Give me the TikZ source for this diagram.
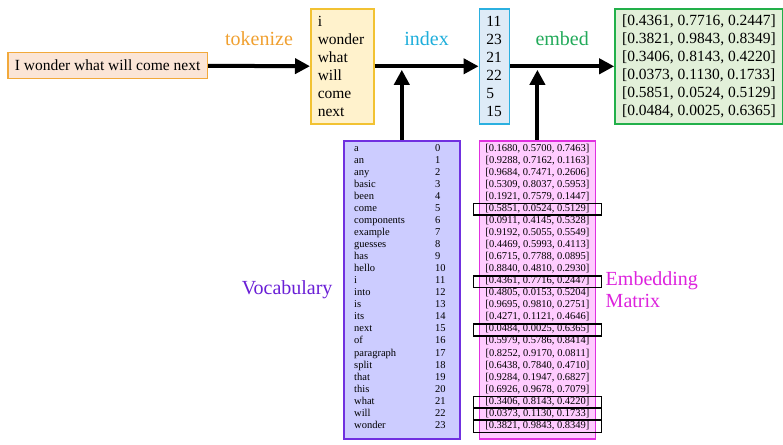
\documentclass[tikz,border=0pt]{standalone}
\usepackage{fontspec}
\setmainfont{Liberation Serif}
\usetikzlibrary{arrows.meta,positioning,calc}

\definecolor{srcline}{HTML}{F2A93B}
\definecolor{srcfill}{HTML}{FBE5D6}
\definecolor{tokline}{HTML}{F2C232}
\definecolor{tokfill}{HTML}{FFF2CC}
\definecolor{tokorange}{HTML}{F0A030}
\definecolor{idxline}{HTML}{2BB0E0}
\definecolor{idxfill}{HTML}{DEEBF7}
\definecolor{idxblue}{HTML}{1EAEDB}
\definecolor{resline}{HTML}{22B04A}
\definecolor{resfill}{HTML}{E2F0D9}
\definecolor{resgreen}{HTML}{22AA5A}
\definecolor{vocline}{HTML}{7030E0}
\definecolor{vocfill}{HTML}{CCCCFF}
\definecolor{vocpurple}{HTML}{6A1FD6}
\definecolor{embline}{HTML}{E030E0}
\definecolor{embfill}{HTML}{FFCCFF}
\definecolor{embpink}{HTML}{DD22DD}

\begin{document}
\begin{tikzpicture}[x=1pt,y=-1pt]
      \tikzstyle{box}=[rectangle,line width=1.6pt,inner xsep=7pt,inner ysep=0pt]
      \tikzstyle{flow}=[line width=4pt,-{Triangle[length=15pt,width=15pt]}]
      \tikzstyle{lab}=[font=\fontsize{20}{22.7}\selectfont]
      \tikzstyle{big}=[font=\fontsize{15.5}{18}\selectfont]
      \tikzstyle{small}=[font=\fontsize{10.5}{12}\selectfont,inner sep=0pt]
      \tikzstyle{hl}=[line width=1.5pt,draw=black]

      \useasboundingbox (0,0) rectangle (783,444);

      % top row
      \node[box,big,draw=srcline,fill=srcfill,anchor=west,minimum height=26pt] (sent) at (7,65.5) {I wonder what will come next};
      \node[box,big,draw=tokline,fill=tokfill,anchor=north west,align=left,text width=49pt,minimum height=115pt] (tok) at (310,8)
        {i\\wonder\\what\\will\\come\\next};
      \node[box,big,draw=idxline,fill=idxfill,align=left,text width=16pt,minimum height=115pt,right=104pt of tok] (idx)
        {11\\23\\21\\22\\5\\15};
      \node[box,big,draw=resline,fill=resfill,align=left,inner xsep=0pt,minimum width=168pt,minimum height=115pt,right=104pt of idx] (res)
        {[0.4361, 0.7716, 0.2447]\\{}[0.3821, 0.9843, 0.8349]\\{}[0.3406, 0.8143, 0.4220]\\{}%
         [0.0373, 0.1130, 0.1733]\\{}[0.5851, 0.0524, 0.5129]\\{}[0.0484, 0.0025, 0.6365]};

      % lookup tables
      \node[box,draw=vocline,fill=vocfill,anchor=north west,minimum width=116pt,minimum height=298pt] (vocab) at (343,140) {};
      \node[box,draw=embline,fill=embfill,minimum width=116pt,minimum height=298pt,right=18pt of vocab] (emb) {};
      \node[lab,text=vocpurple,left=7pt of vocab] (voclab) {Vocabulary};
      \node[lab,text=embpink,align=left,right=6pt of emb] (emblab) {Embedding\\Matrix};

      \foreach \w [count=\k from 0] in {a,an,any,basic,been,come,components,example,guesses,has,hello,i,
                                        into,is,its,next,of,paragraph,split,that,this,what,will,wonder} {
        \node[small,anchor=base west] (w\k) at ($(vocab.north west)+(11,11+12.06*\k)$) {\w};
        \node[small,anchor=base west] (n\k) at ($(vocab.north west)+(92,11+12.06*\k)$) {\k};
      }

      \foreach \a/\b/\c [count=\k from 0] in {
          0.1680/0.5700/0.7463, 0.9288/0.7162/0.1163, 0.9684/0.7471/0.2606, 0.5309/0.8037/0.5953,
          0.1921/0.7579/0.1447, 0.5851/0.0524/0.5129, 0.0911/0.4145/0.5328, 0.9192/0.5055/0.5549,
          0.4469/0.5993/0.4113, 0.6715/0.7788/0.0895, 0.8840/0.4810/0.2930, 0.4361/0.7716/0.2447,
          0.4805/0.0153/0.5204, 0.9695/0.9810/0.2751, 0.4271/0.1121/0.4646, 0.0484/0.0025/0.6365,
          0.5979/0.5786/0.8414, 0.8252/0.9170/0.0811, 0.6438/0.7840/0.4710, 0.9284/0.1947/0.6827,
          0.6926/0.9678/0.7079, 0.3406/0.8143/0.4220, 0.0373/0.1130/0.1733, 0.3821/0.9843/0.8349} {
        \node[small,anchor=base] (e\k) at ($(emb.north)+(0,11+12.06*\k)$) {[\a, \b, \c]};
      }

      % rows picked out by the index
      \foreach \k in {5,11,15,21,22,23}
        \draw[hl] ($(e\k.base)+(-64,-7.8)$) rectangle ($(e\k.base)+(64,3.9)$);

      % arrows
      \coordinate (vj) at ($(vocab.north |- tok.east)+(0,3.5)$);
      \coordinate (ej) at ($(emb.north |- tok.east)+(0,3.5)$);

      \draw[flow] (sent) -- (tok) node[lab,midway,above=15pt,text=tokorange] {tokenize};
      \draw[flow] (tok) -- (idx) node[lab,midway,above=15pt,text=idxblue] {index};
      \draw[flow] (idx) -- (res) node[lab,midway,above=15pt,text=resgreen] {embed};
      \draw[flow] (vocab) -- (vj);
      \draw[flow] (emb) -- (ej);
\end{tikzpicture}
\end{document}
